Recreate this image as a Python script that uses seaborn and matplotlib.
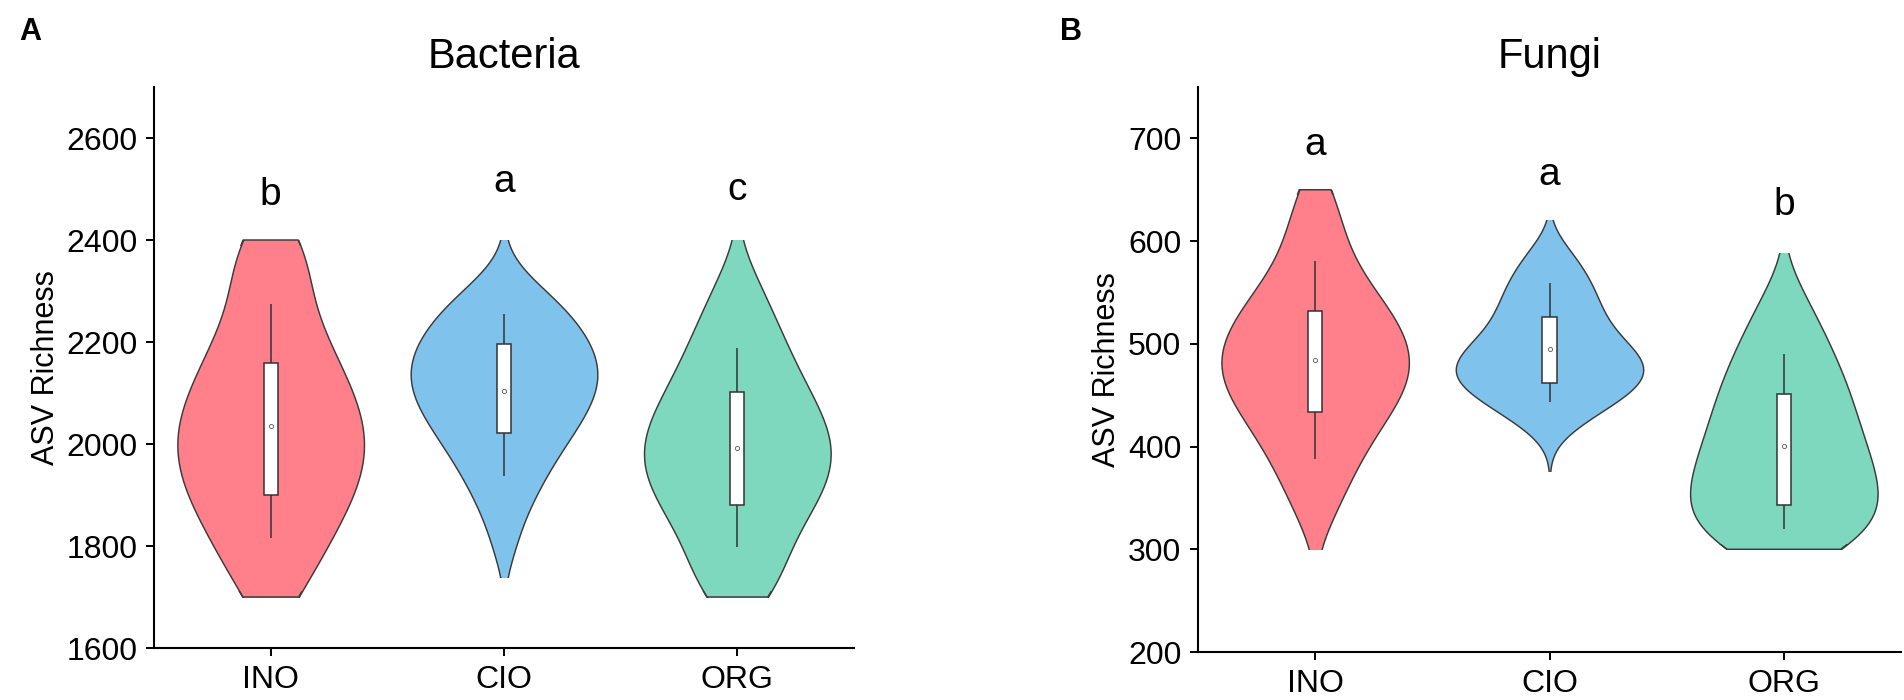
import pandas as pd
import seaborn as sns
import matplotlib.pyplot as plt
from matplotlib.patches import Rectangle
from matplotlib.path import Path

# treatments and colours
groups = ['INO', 'CIO', 'ORG']
colors = ['#FF808A', '#7FC3ED', '#7ED8BD']

# ASV richness per sample, bacteria
bac_ino = [1700, 1718, 1752, 1775, 1799, 1816, 1834, 1851, 1865, 1879, 1894,
           1907, 1919, 1931, 1943, 1955, 1966, 1977, 1989, 2000, 2011, 2022,
           2033, 2045, 2056, 2069, 2081, 2094, 2107, 2121, 2136, 2150, 2167,
           2184, 2202, 2224, 2247, 2275, 2304, 2340, 2370, 2392, 2400]
bac_cio = [1800, 1858, 1891, 1916, 1938, 1958, 1974, 1989, 2004, 2016, 2028,
           2039, 2051, 2060, 2070, 2079, 2089, 2098, 2107, 2115, 2123, 2132,
           2140, 2149, 2157, 2166, 2175, 2184, 2192, 2201, 2212, 2222, 2233,
           2243, 2255, 2269, 2283, 2298, 2318]
bac_org = [1700, 1712, 1730, 1750, 1774, 1799, 1816, 1834, 1851, 1864, 1877,
           1890, 1902, 1912, 1923, 1933, 1944, 1954, 1964, 1974, 1983, 1993,
           2003, 2013, 2024, 2034, 2044, 2055, 2067, 2080, 2092, 2105, 2121,
           2136, 2152, 2170, 2189, 2210, 2232, 2258, 2289, 2330]
# visible range of each violin (bottom, top)
bac_lo = [1700, 1740, 1700]
bac_hi = [2400, 2400, 2400]

# ASV richness per sample, fungi
fun_ino = [330, 350, 364, 378, 388, 398, 407, 414, 422, 428, 434, 440, 446,
           451, 456, 460, 465, 469, 474, 478, 483, 487, 492, 496, 501, 506,
           511, 516, 521, 526, 532, 538, 545, 551, 561, 571, 581, 597, 613,
           630, 650]
fun_cio = [417, 426, 434, 438, 443, 447, 451, 454, 457, 460, 463, 466,
           469, 471, 474, 477, 479, 482, 485, 488, 491, 494, 498, 501, 505,
           509, 514, 519, 524, 529, 535, 540, 546, 552, 559, 565, 573, 582,
           594]
fun_org = [300, 302, 303, 309, 314, 320, 324, 329, 333, 338, 342, 347, 351,
           356, 360, 364, 369, 374, 379, 384, 389, 394, 399, 404, 410, 416,
           422, 428, 433, 440, 446, 453, 460, 466, 474, 482, 490, 499, 510,
           521, 534, 555]
fun_lo = [300, 376, 300]
fun_hi = [650, 621, 588]

# significance letters and their heights
sig_bac = ['b', 'a', 'c']
sig_bac_y = [2469, 2494, 2478]
sig_fun = ['a', 'a', 'b']
sig_fun_y = [684, 655, 625]

OUTLINE = '#3a3a3a'
VIOLIN_KW = dict(x='group', y='value', order=groups, density_norm='width',
                 width=0.8, inner=None, saturation=1, bw_adjust=0.85, linewidth=1.05)


def long_df(ino, cio, org):
    return pd.DataFrame({
        'group': ['INO'] * len(ino) + ['CIO'] * len(cio) + ['ORG'] * len(org),
        'value': ino + cio + org,
    })


sns.set_theme(style='ticks')
plt.rcParams['font.family'] = ['Liberation Sans', 'DejaVu Sans']
plt.rcParams.update({'text.color': 'black', 'axes.labelcolor': 'black',
                     'xtick.color': 'black', 'ytick.color': 'black'})

W, H = 1904, 700
fig = plt.figure(figsize=(W / 100, H / 100), dpi=100)


def draw_panel(rect, df, lo, hi, title, ylim, yticks, letters, letter_y):
    ax = fig.add_axes(rect)
    sns.violinplot(data=df, hue='group', hue_order=groups, palette=colors,
                   legend=False, cut=3, linecolor=OUTLINE, ax=ax, **VIOLIN_KW)
    # trim each violin to the range shown in the figure
    for coll in ax.collections:
        i = int(round(coll.get_paths()[0].vertices[:, 0].mean()))
        coll.set_clip_path(Rectangle((i - 0.5, lo[i]), 1, hi[i] - lo[i],
                                     transform=ax.transData))
    n_fill = len(ax.collections)

    # outline again, cut at the data range, kept only at the flat ends
    sns.violinplot(data=df, color=OUTLINE, fill=False, cut=0, ax=ax, **VIOLIN_KW)
    eps = 0.01 * (ylim[1] - ylim[0])
    for coll in ax.collections[n_fill:]:
        i = int(round(coll.get_paths()[0].vertices[:, 0].mean()))
        vals = df.loc[df['group'] == groups[i], 'value']
        bands = []
        if lo[i] >= vals.min():
            bands.append((ylim[0], vals.min() + eps))
        if hi[i] <= vals.max():
            bands.append((vals.max() - eps, ylim[1]))
        verts, codes = [(0, 0)], [Path.MOVETO]
        for y0, y1 in bands:
            verts += [(i - 0.5, y0), (i + 0.5, y0), (i + 0.5, y1), (i - 0.5, y1), (i - 0.5, y0)]
            codes += [Path.MOVETO, Path.LINETO, Path.LINETO, Path.LINETO, Path.CLOSEPOLY]
        coll.set_clip_path(Path(verts, codes), ax.transData)
        if not bands:
            coll.set_visible(False)

    sns.boxplot(data=df, x='group', y='value', order=groups, width=0.06,
                whis=(10, 90), showfliers=False, showcaps=False, showmeans=True,
                color='white', saturation=1, linecolor='#333333', linewidth=1.1,
                medianprops=dict(linewidth=0),
                meanprops=dict(marker='o', markersize=3, markerfacecolor='white',
                               markeredgecolor='#555555', markeredgewidth=0.6),
                ax=ax)
    for i, (s, y) in enumerate(zip(letters, letter_y)):
        ax.text(i, y, s, ha='center', va='baseline', fontsize=28)
    ax.set_xlim(-0.5, 2.5)
    ax.set_ylim(*ylim)
    ax.set_yticks(yticks)
    ax.set_xlabel('')
    ax.set_ylabel('ASV Richness', fontsize=22, labelpad=4)
    ax.set_title(title, fontsize=30, pad=14)
    sns.despine(ax=ax)
    for sp in ['left', 'bottom']:
        ax.spines[sp].set_linewidth(1.5)
        ax.spines[sp].set_color('black')
    ax.tick_params(direction='out', length=6, width=1.4, labelsize=23,
                   pad=6, color='black')
    return ax


draw_panel([154 / W, 1 - 648 / H, 700 / W, 561 / H], long_df(bac_ino, bac_cio, bac_org),
           bac_lo, bac_hi, 'Bacteria', (1600, 2700), range(1600, 2601, 200),
           sig_bac, sig_bac_y)
draw_panel([1198 / W, 1 - 652 / H, 703 / W, 565 / H], long_df(fun_ino, fun_cio, fun_org),
           fun_lo, fun_hi, 'Fungi', (200, 750), range(200, 701, 100),
           sig_fun, sig_fun_y)

fig.text(19 / W, 1 - 40 / H, 'A', fontsize=22, fontweight='bold', va='baseline')
fig.text(1060 / W, 1 - 40 / H, 'B', fontsize=22, fontweight='bold', va='baseline')

fig.savefig('out.png', dpi=100)
